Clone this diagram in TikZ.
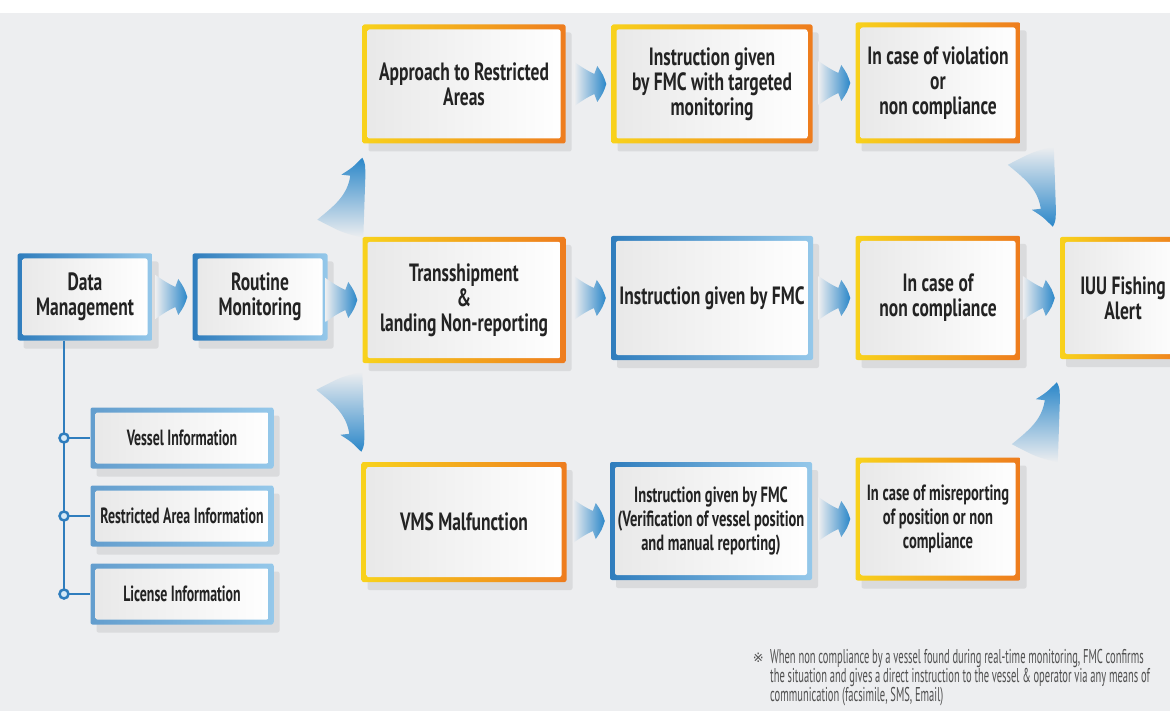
\documentclass[tikz,border=0pt]{standalone}
\usepackage{fontspec}
\setmainfont{PT Sans}[FakeStretch=0.70]
\newfontfamily\smallfont{PT Sans}[FakeStretch=0.66]
\newfontfamily\infofont{PT Sans}[FakeStretch=0.63]
\newfontfamily\notefont{PT Sans}[FakeStretch=0.525]
\newfontfamily\markfont{DejaVu Sans}
\usepackage{tikz}
\usetikzlibrary{arrows.meta, calc, shadows}

\definecolor{bggray}{HTML}{EDEEF0}
\definecolor{arrowblue}{HTML}{2B87C9}
\definecolor{frameblue}{HTML}{2F7DBD}
\definecolor{framesky}{HTML}{95C8EA}
\definecolor{frameyellow}{HTML}{F8D21C}
\definecolor{frameorange}{HTML}{EE7C1E}
\definecolor{inkgray}{HTML}{232323}
\definecolor{notegray}{HTML}{505050}

\begin{document}
\begin{tikzpicture}[
            x=1pt, y=-1pt,
            >=Stealth,
            box/.style={
                rectangle,
                rounded corners=2pt,
                inner sep=0pt,
                align=center,
                text=inkgray,
                font=\bfseries\fontsize{25}{25}\selectfont,
                drop shadow={shadow xshift=6pt, shadow yshift=-8pt, opacity=0.08, fill=black},
                path picture={
                    \shade[left color=gray!18, right color=white]
                        ([xshift=5pt, yshift=-5pt]path picture bounding box.north west) rectangle
                        ([xshift=-5pt, yshift=5pt]path picture bounding box.south east);
                }
            },
            bluebox/.style={box, left color=frameblue, right color=framesky},
            warmbox/.style={box, left color=frameyellow, right color=frameorange},
            infobox/.style={box, left color=frameblue!75, right color=framesky,
                minimum width=183pt, minimum height=61pt,
                font=\infofont\bfseries\fontsize{22}{24}\selectfont},
            smalltext/.style={font=\smallfont\bfseries\fontsize{22}{24}\selectfont},
            treeline/.style={draw=frameblue, line width=2.5pt},
            knob/.style={draw=frameblue, fill=framesky!40, line width=2.5pt},
            chevron/.pic={
                \shade[left color=bggray, right color=arrowblue]
                    (0,0) .. controls (-3,-9) .. (-9,-18) -- (-12,-10)
                    .. controls (-20,-14) .. (-32,-22) -- (-32,22)
                    .. controls (-20,14) .. (-12,10) -- (-9,18)
                    .. controls (-3,9) .. (0,0) -- cycle;
            },
            rise/.pic={
                \shade[top color=arrowblue, bottom color=bggray]
                    (0,0) .. controls (3,6) .. (3,20) -- (1,80)
                    .. controls (-20,75) .. (-45,62)
                    .. controls (-28,48) and (-15,38) .. (-12,18)
                    -- (-21,17) .. controls (-10,10) .. (0,0) -- cycle;
            },
            drop/.pic={
                \shade[top color=bggray, bottom color=arrowblue]
                    (0,0) .. controls (3,-6) .. (3,-20) -- (1,-80)
                    .. controls (-20,-75) .. (-45,-62)
                    .. controls (-28,-48) and (-15,-38) .. (-12,-18)
                    -- (-21,-17) .. controls (-10,-10) .. (0,0) -- cycle;
            }
        ]
            \clip (0,0) rectangle (1170,711);
            % Fundo
            \fill[white] (0,0) rectangle (1170,13);
            \fill[bggray] (0,13) rectangle (1170,711);

            % Coluna da esquerda
            \node [bluebox, minimum width=135pt, minimum height=87pt] (datamgmt) at (85,297) {Data\\Management};
            \node [bluebox, minimum width=135pt, minimum height=87pt] (routine) at (260,297) {Routine\\Monitoring};

            % Informacoes de base
            \node [infobox] (vessel) at (182,438) {Vessel Information};
            \node [infobox] (restricted) at (182,516) {Restricted Area Information};
            \node [infobox] (license) at (182,594) {License Information};

            % Linha de ligacao
            \coordinate (trunk) at ([xshift=-21pt]datamgmt.south);
            \draw [treeline] (trunk) -- (trunk |- license.west);
            \foreach \info in {vessel, restricted, license} {
                \draw [treeline] (trunk |- \info.west) -- (\info.west);
                \draw [knob] (trunk |- \info.west) circle (4.5pt);
            }

            % Linha superior
            \node [warmbox, minimum width=203pt, minimum height=119pt] (approach) at (464,84) {Approach to Restricted\\Areas};
            \node [warmbox, minimum width=201pt, minimum height=119pt] (targeted) at (712,84) {Instruction given\\by FMC with targeted\\monitoring};
            \node [warmbox, minimum width=165pt, minimum height=121pt] (violation) at (938,83) {In case of violation\\or\\non compliance};

            % Linha do meio
            \node [warmbox, minimum width=203pt, minimum height=126pt] (transship) at (464,300) {Transshipment\\\&\\landing Non-reporting};
            \node [bluebox, minimum width=202pt, minimum height=124pt] (fmcmid) at (712,298) {Instruction given by FMC};
            \node [warmbox, minimum width=165pt, minimum height=124pt] (noncomp) at (938,298) {In case of\\non compliance};
            \node [warmbox, minimum width=126pt, minimum height=122pt] (alert) at (1123,298) {IUU Fishing\\Alert};

            % Linha inferior
            \node [warmbox, minimum width=205pt, minimum height=120pt] (vms) at (464,522) {VMS Malfunction};
            \node [bluebox, smalltext, minimum width=202pt, minimum height=118pt] (fmcvms) at (711,521) {Instruction given by FMC\\(Verification of vessel position\\and manual reporting)};
            \node [warmbox, smalltext, minimum width=165pt, minimum height=123pt] (misreport) at (938,519) {In case of misreporting\\of position or non\\compliance};

            % Setas retas
            \pic at ([xshift=-5pt]routine.west) {chevron};
            \pic at ([xshift=-5pt]transship.west) {chevron};
            \pic at ([xshift=-5pt]targeted.west) {chevron};
            \pic at ([xshift=-5pt]violation.west) {chevron};
            \pic at ([xshift=-5pt]fmcmid.west) {chevron};
            \pic at ([xshift=-5pt]noncomp.west) {chevron};
            \pic at ([xshift=-5pt]alert.west) {chevron};
            \pic at ([xshift=-5pt]fmcvms.west) {chevron};
            \pic at ([xshift=-5pt]misreport.west) {chevron};

            % Setas curvas
            \pic at ([yshift=-14pt]approach.south west) {rise};
            \pic at ([yshift=10pt]vms.north west) {drop};
            \pic at ([xshift=-7pt, yshift=10pt]alert.north west) {drop};
            \pic at ([xshift=-3pt, yshift=-23pt]alert.south west) {rise};

            % Observacao
            \node [anchor=north west, align=left, inner sep=0pt, text=notegray,
                font=\notefont\fontsize{20}{19}\selectfont] (remark) at (770,649)
                {When non compliance by a vessel found during real-time monitoring, FMC confirms\\
                 the situation and gives a direct instruction to the vessel \& operator via any means of\\
                 communication (facsimile, SMS, Email)};
            \node [anchor=north east, inner sep=0pt, text=notegray,
                font=\markfont\fontsize{13}{20}\selectfont] (remarkmark) at ([xshift=-6pt, yshift=-4pt]remark.north west) {※};
        \end{tikzpicture}
\end{document}
